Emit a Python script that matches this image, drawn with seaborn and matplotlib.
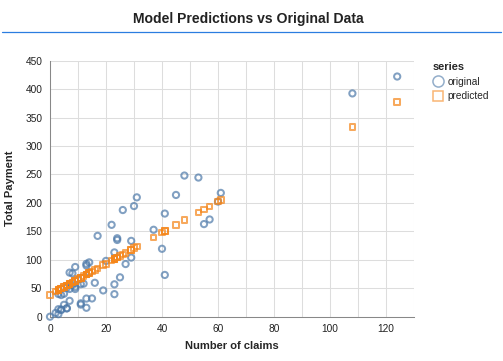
import matplotlib
matplotlib.use("Agg")
import matplotlib.pyplot as plt
from matplotlib.lines import Line2D
import seaborn as sns
import pandas as pd

# Data (Swedish auto insurance: number of claims vs total payment)
claims = [108, 19, 13, 124, 40, 57, 23, 14, 45, 10, 5, 48, 11, 23, 7, 2, 24, 6, 3, 23,
          6, 9, 9, 3, 29, 7, 4, 20, 7, 4, 0, 25, 6, 5, 22, 11, 61, 12, 4, 16,
          13, 60, 41, 37, 55, 41, 11, 27, 8, 3, 17, 13, 13, 15, 8, 29, 30, 24, 9, 31,
          14, 53, 26]
payment = [392.5, 46.2, 15.7, 422.2, 119.4, 170.9, 56.9, 77.5, 214.0, 65.3, 20.9, 248.1,
           23.5, 39.6, 48.8, 6.6, 134.9, 50.9, 4.4, 113.0, 14.8, 48.7, 52.1, 13.2, 103.9,
           77.5, 11.8, 98.1, 27.9, 38.1, 0.0, 69.2, 14.6, 40.3, 161.5, 57.2, 217.6, 58.1,
           12.6, 59.6, 89.9, 202.4, 181.3, 152.8, 162.8, 73.4, 21.3, 92.6, 76.1, 39.9,
           142.1, 93.0, 31.9, 32.1, 55.6, 133.3, 194.5, 137.9, 87.4, 209.8, 95.5, 244.6,
           187.5]
predicted = [333.3, 90.4, 74.0, 377.0, 147.7, 194.1, 101.3, 76.7, 161.4, 65.8, 52.2, 169.5,
             68.5, 101.3, 57.6, 44.0, 104.0, 54.9, 46.7, 101.3, 54.9, 63.1, 63.1, 46.7, 117.7,
             57.6, 49.4, 93.1, 57.6, 49.4, 38.5, 106.8, 54.9, 52.2, 98.6, 68.5, 205.0, 71.3,
             49.4, 82.2, 74.0, 202.3, 150.4, 139.5, 188.7, 150.4, 68.5, 112.2, 60.3, 46.7,
             84.9, 74.0, 74.0, 79.5, 60.3, 117.7, 120.4, 104.0, 63.1, 123.1, 76.7, 183.2,
             109.5]
series_names = ["original", "predicted"]

df = pd.DataFrame({
    "claims": claims + claims,
    "value": payment + predicted,
    "series": [series_names[0]] * len(claims) + [series_names[1]] * len(claims),
})

BLUE = "#4c78a8"
ORANGE = "#f58518"
colors = {"original": BLUE, "predicted": ORANGE}
markers = {"original": "o", "predicted": "s"}
sizes = {"original": 20, "predicted": 16}

sns.set_style("white")
plt.rcParams["font.family"] = ["Liberation Sans", "DejaVu Sans"]

fig = plt.figure(figsize=(5.03, 3.61), dpi=100)
ax = fig.add_axes([50 / 503, 1 - 316.7 / 361, 364 / 503, 256 / 361])

for name in series_names:
    sub = df[df["series"] == name]
    before = len(ax.collections)
    sns.scatterplot(data=sub, x="claims", y="value", marker=markers[name],
                    s=sizes[name], color=colors[name], ax=ax, legend=False,
                    clip_on=False, zorder=3)
    for coll in ax.collections[before:]:
        coll.set_facecolor("none")
        coll.set_edgecolor(colors[name])
        coll.set_linewidth(1.45)
        coll.set_alpha(0.7)

ax.set_xlim(0, 130)
ax.set_ylim(0, 450)
xt = list(range(0, 131, 10))
ax.set_xticks(xt)
ax.set_xticklabels([str(v) if v % 20 == 0 else "" for v in xt])
yt = list(range(0, 451, 50))
ax.set_yticks(yt)
ax.set_yticklabels([str(v) for v in yt])
ax.grid(True, color="#dddddd", linewidth=0.75, zorder=0)
ax.set_axisbelow(True)
for s in ["top", "right"]:
    ax.spines[s].set_visible(False)
for s in ["left", "bottom"]:
    ax.spines[s].set_color("#888888")
    ax.spines[s].set_linewidth(0.75)
ax.tick_params(axis="both", length=3.6, width=0.75, color="#888888",
               labelsize=7.3, labelcolor="#222222", pad=2)
ax.set_xlabel("Number of claims", fontsize=8, fontweight="bold", labelpad=5)
ax.set_ylabel("Total Payment", fontsize=8, fontweight="bold", labelpad=7)

# Title and underline
fig.text(248 / 503, 1 - 18.5 / 361, "Model Predictions vs Original Data",
         ha="center", va="center", fontsize=10.1, fontweight="bold", color="#222222")
fig.add_artist(Line2D([2 / 503, 501 / 503], [1 - 32 / 361, 1 - 32 / 361],
                      color="#2b7de0", linewidth=0.9, transform=fig.transFigure))

# Legend
handles = [
    Line2D([], [], linestyle="none", marker="o", markersize=8, markerfacecolor="none",
           markeredgecolor=BLUE, markeredgewidth=1.1, alpha=0.6),
    Line2D([], [], linestyle="none", marker="s", markersize=7.5, markerfacecolor="none",
           markeredgecolor=ORANGE, markeredgewidth=1.1, alpha=0.6),
]
leg = fig.legend(handles, series_names, title="series", loc="upper left",
                 bbox_to_anchor=(426 / 503, 1 - 55 / 361), frameon=False,
                 fontsize=7.3, title_fontsize=7.9, handlelength=1.0,
                 handletextpad=0.4, labelspacing=0.45, borderpad=0.2,
                 alignment="left")
leg.get_title().set_fontweight("bold")

fig.savefig("out.png", dpi=100)
